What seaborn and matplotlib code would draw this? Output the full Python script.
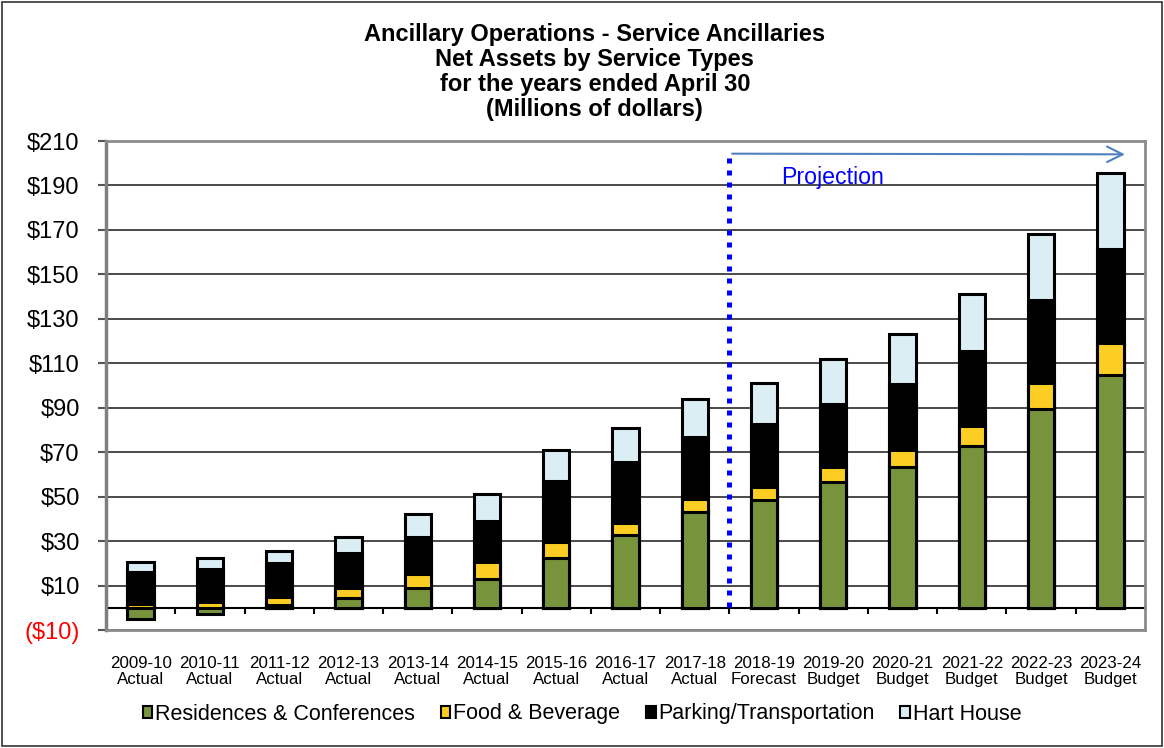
import numpy as np
import pandas as pd
import matplotlib
matplotlib.use("Agg")
import matplotlib.pyplot as plt
from matplotlib.patches import Patch, Rectangle
import seaborn as sns

# ---------------- data ----------------
years = ["2009-10", "2010-11", "2011-12", "2012-13", "2013-14", "2014-15", "2015-16",
         "2016-17", "2017-18", "2018-19", "2019-20", "2020-21", "2021-22", "2022-23", "2023-24"]
kinds = ["Actual"] * 9 + ["Forecast"] + ["Budget"] * 5
residences = [-5.0, -2.7, 1.2, 4.4, 8.8, 12.9, 22.3, 32.6, 43.0, 48.5, 56.7, 63.2, 72.9, 89.5, 104.9]
food = [1.5, 2.8, 3.6, 4.7, 6.5, 7.9, 7.5, 5.4, 5.8, 5.7, 6.7, 7.6, 9.1, 11.4, 14.2]
parking = [14.8, 14.6, 15.3, 15.7, 16.7, 18.4, 27.1, 27.4, 28.1, 28.4, 28.3, 29.9, 33.3, 37.7, 42.1]
hart = [4.2, 4.9, 5.6, 7.1, 10.3, 12.1, 14.2, 15.6, 16.9, 18.6, 20.0, 22.6, 25.8, 29.5, 34.4]
series_names = ["Residences & Conferences", "Food & Beverage", "Parking/Transportation", "Hart House"]
series_colors = ["#77933C", "#FCCD22", "#000000", "#DAEEF3"]
yticks = [-10, 10, 30, 50, 70, 90, 110, 130, 150, 170, 190, 210]
title = ("Ancillary Operations - Service Ancillaries\nNet Assets by Service Types\n"
         "for the years ended April 30\n(Millions of dollars)")

labels = [f"{y}\n{k}" for y, k in zip(years, kinds)]

# cumulative tops (positive parts stack from zero)
res = np.array(residences)
food_top = np.maximum(res, 0) + np.array(food)
park_top = food_top + np.array(parking)
hart_top = park_top + np.array(hart)

df = pd.DataFrame({"label": labels, "res": res, "food_top": food_top,
                   "park_top": park_top, "hart_top": hart_top})

sns.set_theme(style="white")
plt.rcParams["font.family"] = ["Liberation Sans", "DejaVu Sans"]
plt.rcParams["text.color"] = "black"
plt.rcParams["xtick.labelcolor"] = "black"
plt.rcParams["ytick.labelcolor"] = "black"

fig = plt.figure(figsize=(11.64, 7.48), dpi=100)
ax = fig.add_axes([106 / 1164, 1 - 630 / 748, (1145 - 106) / 1164, (630 - 141) / 748])

bw = 0.38
for col, color in zip(["hart_top", "park_top", "food_top", "res"], series_colors[::-1]):
    sns.barplot(data=df, x="label", y=col, color=color, saturation=1, width=bw,
                edgecolor="black", linewidth=2.2, order=labels, ax=ax, zorder=3)

ax.set_xlim(-0.5, 14.5)
ax.set_ylim(-10, 210)
ax.set_xlabel("")
ax.set_ylabel("")

# grid and axes
ax.set_yticks(yticks)
ax.set_yticklabels([f"(${-v})" if v < 0 else f"${v}" for v in yticks], fontsize=17, color="black")
ax.get_yticklabels()[0].set_color("red")
ax.yaxis.grid(True, color="#2b2b2b", lw=1.2, zorder=1)
ax.xaxis.grid(False)
ax.tick_params(axis="y", direction="out", length=6, width=1.5, color="#555555", pad=13, left=True)
ax.tick_params(axis="x", length=0, pad=18.5, labelsize=12.2, labelcolor="black")
for t in ax.get_xticklabels():
    t.set_linespacing(1.13)
for s in ["top", "right", "bottom"]:
    ax.spines[s].set_color("#8c8c8c")
    ax.spines[s].set_linewidth(2)
ax.spines["left"].set_color("#808080")
ax.spines["left"].set_linewidth(2.5)

ax.axhline(0, color="black", lw=1.5, zorder=2)
ax.vlines(np.arange(0.5, 14.5, 1.0), -2.8, 0, colors="black", lw=1.5, zorder=2)

# projection marker
ax.vlines(8.5, 0.5, 205, colors="#0000FF", lw=3.6, linestyles=(0, (1, 1.4)), zorder=4)
ax.annotate("", xy=(14.25, 204.0), xytext=(8.5, 204.3),
            arrowprops=dict(arrowstyle="->", color="#4F81BD", lw=1.5, mutation_scale=28), zorder=4)
ax.text(9.25, 193.8, "Projection", color="#0000FF", fontsize=16.7, ha="left", va="center", zorder=4)

fig.text(0.511, 1 - 72 / 748, title, ha="center", va="center", fontsize=17, fontweight="bold",
         linespacing=1.1, color="black")

handles = [Patch(facecolor=c, edgecolor="black", lw=1.5) for c in series_colors]
fig.legend(handles, series_names, loc="center", bbox_to_anchor=(0.500, 1 - 714 / 748), ncol=4,
           frameon=False, fontsize=15.5, handlelength=0.45, handleheight=0.45,
           handletextpad=0.12, columnspacing=1.2, labelcolor="black")

fig.add_artist(Rectangle((2 / 1164, 2 / 748), 1 - 4 / 1164, 1 - 4 / 748, transform=fig.transFigure,
                         fill=False, edgecolor="#333333", lw=1.2))

fig.savefig("out.png", dpi=100, facecolor="white")
